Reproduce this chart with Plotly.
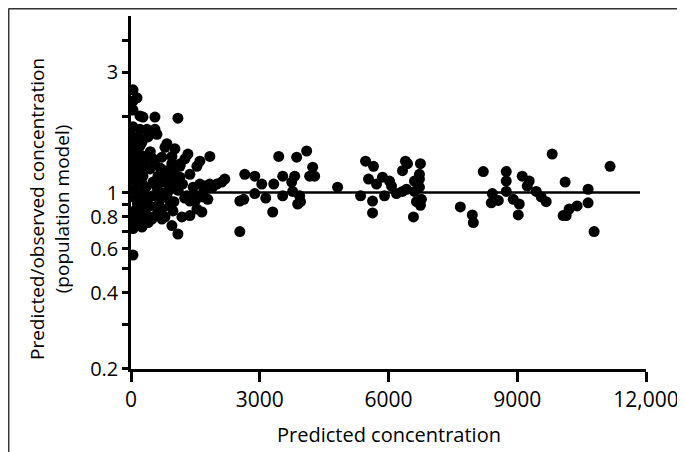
import plotly.graph_objects as go

# Predicted concentration (x) and predicted/observed ratio (y)
pred_conc = [
    47, 140, 47, 47, 209, 279, 558, 1093, 47, 209, 372, 558, 605, 47, 256, 395, 47, 209,
    442, 512, 721, 837, 791, 1023, 953, 1326, 1256, 1140, 1372, 1605, 1535, 1837,
    47, 47, 47, 47, 209, 279, 442, 512, 628, 791, 907, 837, 977, 1070, 907, 1140,
    1605, 1721, 1837, 2000, 2116, 2186, 1302, 1535, 1674, 1791, 1372, 279, 512, 674,
    209, 442, 721, 907, 977, 47, 209, 47, 256, 488, 721, 791, 953, 1093, 1186, 1372,
    1535, 1651, 2535, 2535, 2628, 2651, 2884, 3047, 2884, 3140, 3302, 3326, 3442, 3535,
    3535, 3744, 3814, 3860, 4093, 4233, 4163, 3884, 3767, 3930, 4814, 47, 209,
    4279, 3950, 5465, 5651, 5535, 5721, 5860, 6023, 6070, 5349, 5628, 5628, 5907, 6186,
    6326, 6419, 6395, 6442, 6326, 6744, 6721, 6721, 6605, 6721, 6605, 6767, 6651, 6744,
    6581, 7674, 7953, 7977, 8209, 8419, 8395, 8558, 8744, 8744, 8744, 8907, 9047, 9023,
    9116, 9279, 9233, 9442, 9558, 9674, 9814, 10116, 10651, 10651, 10395, 10209, 10070,
    10140, 10791, 11163,
    100, 150, 100, 150, 100, 150, 100, 250, 300, 350, 400, 300, 350, 600, 650, 550, 450,
    700, 750, 850, 1000, 1100, 1200, 1250, 1450, 1500, 950, 880, 620, 520, 400, 300, 200,
    250, 1150, 1000, 680, 1700, 1900, 180,
]
ratio = [
    2.55, 2.37, 2.12, 2.30, 2.01, 1.99, 1.99, 1.97, 1.82, 1.78, 1.78, 1.78, 1.70, 1.66, 1.58, 1.66, 1.53, 1.53,
    1.39, 1.36, 1.38, 1.56, 1.51, 1.49, 1.39, 1.42, 1.36, 1.27, 1.18, 1.33, 1.27, 1.39,
    1.36, 1.24, 1.13, 1.03, 1.24, 1.16, 1.24, 1.10, 1.16, 1.22, 1.21, 1.13, 1.10, 1.05, 1.05, 1.15,
    1.08, 1.06, 1.08, 1.08, 1.10, 1.13, 0.97, 0.97, 0.96, 0.94, 0.925, 0.94, 0.97, 0.94,
    0.86, 0.885, 0.86, 0.885, 0.845, 0.785, 0.80, 0.72, 0.73, 0.785, 0.785, 0.80, 0.74, 0.685, 0.80, 0.81,
    0.86, 0.837, 0.70, 0.925, 0.94, 1.18, 1.16, 1.08, 0.99, 0.95, 0.837, 1.08, 1.39, 0.97,
    1.16, 1.10, 1.16, 1.38, 1.46, 1.26, 1.16, 0.90, 1.01, 0.97, 1.05, 0.565, 0.74,
    1.16, 0.92, 1.33, 1.27, 1.13, 1.08, 1.15, 1.11, 1.06, 0.97, 0.925, 0.83, 0.97, 0.99,
    1.01, 1.03, 1.33, 1.30, 1.22, 1.30, 1.18, 1.13, 1.11, 1.05, 1.01, 0.94, 0.92, 0.89,
    0.80, 0.877, 0.815, 0.76, 1.21, 0.99, 0.91, 0.93, 1.21, 1.11, 1.01, 0.94, 0.90, 0.815,
    1.16, 1.11, 1.06, 1.01, 0.96, 0.92, 1.42, 1.10, 1.03, 0.91, 0.885, 0.86, 0.81,
    0.81, 0.70, 1.27,
    1.45, 1.30, 1.18, 1.08, 0.95, 0.90, 0.85, 1.40, 1.30, 1.05, 0.95, 0.88, 0.82, 1.05, 0.90, 1.30, 1.45,
    1.00, 1.10, 0.95, 0.92, 1.02, 1.08, 0.95, 1.05, 0.93, 1.30, 1.02, 0.83, 0.80, 0.76, 1.02, 0.98,
    1.10, 1.30, 1.20, 1.25, 1.02, 1.05, 1.65,
]

ref_line_x = [0, 11860]
ref_line_y = [1, 1]

y_tickvals = [0.2, 0.3, 0.4, 0.5, 0.6, 0.7, 0.8, 0.9, 1, 2, 3, 4]
y_ticktext = ["0.2", "", "0.4", "", "0.6", "", "0.8", "", "1", "", "3", ""]
x_tickvals = [0, 3000, 6000, 9000, 12000]
x_ticktext = ["0", "3000", "6000", "9000", "12,000"]

FONT = "Open Sans"
L, R, T, B = 123, 47, 8, 91
W, H = 685, 452
PW, PH = W - L - R, H - T - B


def px(fx):
    return (fx - L) / PW


def py(fy):
    return (H - B - fy) / PH


fig = go.Figure()
fig.add_trace(go.Scatter(x=ref_line_x, y=ref_line_y, mode="lines",
                         line=dict(color="black", width=2.5), hoverinfo="skip"))
fig.add_trace(go.Scatter(x=pred_conc, y=ratio, mode="markers",
                         marker=dict(color="black", size=11, line=dict(width=0))))

fig.update_layout(
    width=W, height=H,
    margin=dict(l=L, r=R, t=T, b=B),
    plot_bgcolor="white", paper_bgcolor="white",
    showlegend=False,
    font=dict(family=FONT, color="black", size=21),
    xaxis=dict(
        range=[0, 12000], tickvals=x_tickvals, ticktext=x_ticktext,
        showgrid=False, zeroline=False, showline=True, linecolor="black", linewidth=2.5,
        ticks="outside", ticklen=10, tickwidth=2.5, tickcolor="black",
        tickfont=dict(family=FONT, size=21), automargin=False,
    ),
    yaxis=dict(
        type="log", range=[-0.699, 0.699], tickvals=y_tickvals, ticktext=y_ticktext,
        showgrid=False, zeroline=False, showline=True, linecolor="black", linewidth=2.5,
        ticks="outside", ticklen=6, tickwidth=2.5, tickcolor="black",
        tickfont=dict(family=FONT, size=20), automargin=False,
    ),
    annotations=[
        dict(text="Predicted concentration", xref="paper", yref="paper",
             x=0.5, y=py(426), xanchor="center", yanchor="middle", showarrow=False,
             font=dict(family=FONT, size=20, color="black")),
        dict(text="Predicted/observed concentration<br>(population model)",
             xref="paper", yref="paper", x=px(41), y=py(201), textangle=-90,
             xanchor="center", yanchor="middle", showarrow=False,
             font=dict(family=FONT, size=19, color="black")),
    ],
    shapes=[
        dict(type="line", xref="paper", yref="paper", x0=px(0.5), x1=px(W + 5),
             y0=py(0.7), y1=py(0.7), line=dict(color="#333333", width=1.5)),
        dict(type="line", xref="paper", yref="paper", x0=px(0.7), x1=px(0.7),
             y0=py(0.5), y1=py(H + 5), line=dict(color="#333333", width=1.5)),
    ],
)

fig.write_html("out.html")
